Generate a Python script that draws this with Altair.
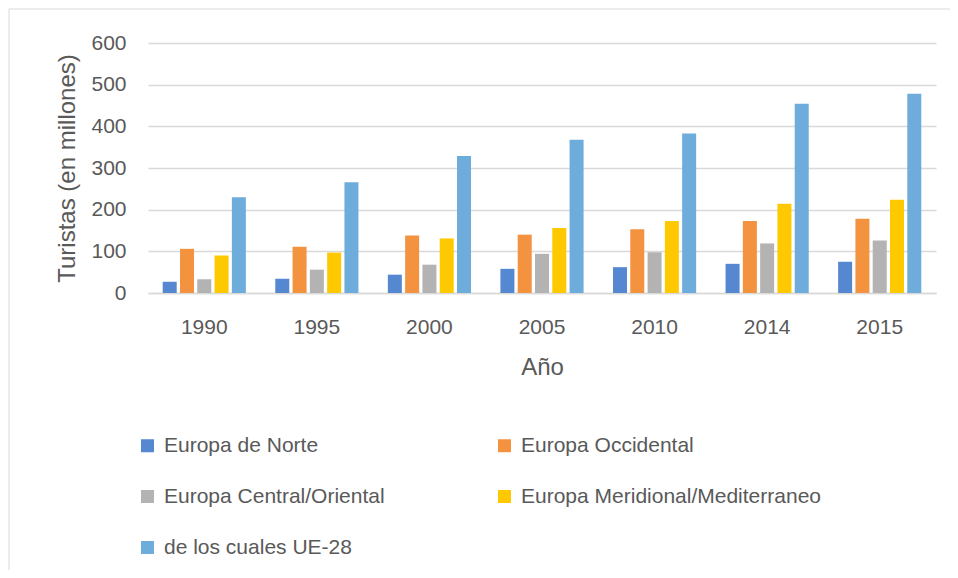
import altair as alt
import pandas as pd

years = ["1990", "1995", "2000", "2005", "2010", "2014", "2015"]
series = ["Europa de Norte", "Europa Occidental", "Europa Central/Oriental",
          "Europa Meridional/Mediterraneo", "de los cuales UE-28"]
norte = [27, 34, 44, 58, 62, 70, 75]
occidental = [106, 111, 138, 140, 153, 173, 178]
central = [33, 56, 68, 94, 98, 119, 126]
meridional = [90, 97, 131, 156, 173, 214, 224]
ue28 = [230, 266, 329, 368, 383, 454, 478]
colors = ["#5687D1", "#F3923F", "#B3B3B3", "#FFC901", "#6EACDC"]
legend_order = [series[0], series[2], series[4], series[1], series[3]]

rows = []
for name, vals in zip(series, [norte, occidental, central, meridional, ue28]):
    for y, v in zip(years, vals):
        rows.append({"Año": y, "Serie": name, "Valor": v})
df = pd.DataFrame(rows)

FONT = "Liberation Sans"
TXT = "#595959"
GRID = "#d9d9d9"

bars = alt.Chart(df).mark_bar().encode(
    x=alt.X("Año:N", sort=years,
            scale=alt.Scale(paddingInner=0.232, paddingOuter=0.116),
            axis=alt.Axis(title="Año", labelAngle=0, ticks=False, domain=True,
                          domainColor=GRID, domainWidth=1.5, grid=False,
                          labelPadding=23, titlePadding=18)),
    xOffset=alt.XOffset("Serie:N", sort=series,
                        scale=alt.Scale(paddingInner=0.19, paddingOuter=0.095)),
    y=alt.Y("Valor:Q", scale=alt.Scale(domain=[0, 600]),
            axis=alt.Axis(title="Turistas (en millones)", values=[0, 100, 200, 300, 400, 500, 600],
                          ticks=False, domain=False, grid=True, gridColor=GRID,
                          gridWidth=1.5, labelPadding=22, titlePadding=11)),
    color=alt.Color("Serie:N", sort=series,
                    scale=alt.Scale(domain=series, range=colors),
                    legend=alt.Legend(title=None, orient="none", legendX=-11, legendY=392,
                                      values=legend_order,
                                      columns=2, columnPadding=109, rowPadding=29,
                                      symbolType="square", symbolSize=169,
                                      symbolStrokeWidth=0, labelOffset=6,
                                      labelLimit=500, padding=0)),
)

border = alt.Chart(pd.DataFrame({"b": [0]})).mark_rect(
    fill=None, stroke=GRID, strokeWidth=1
).encode(x=alt.value(-139), x2=alt.value(1200), y=alt.value(-34), y2=alt.value(900))

chart = alt.layer(border, bars).properties(
    width=788, height=250,
    autosize=alt.AutoSizeParams(type="none"),
    padding={"left": 140, "top": 35, "right": 14, "bottom": 277},
).configure_view(stroke=None).configure_axis(
    labelFont=FONT, labelFontSize=21, labelColor=TXT,
    titleFont=FONT, titleFontSize=24, titleColor=TXT, titleFontWeight="normal",
).configure_legend(
    labelFont=FONT, labelFontSize=21, labelColor=TXT,
)

chart.save("out.html", embed_options={"renderer": "svg", "actions": False})
